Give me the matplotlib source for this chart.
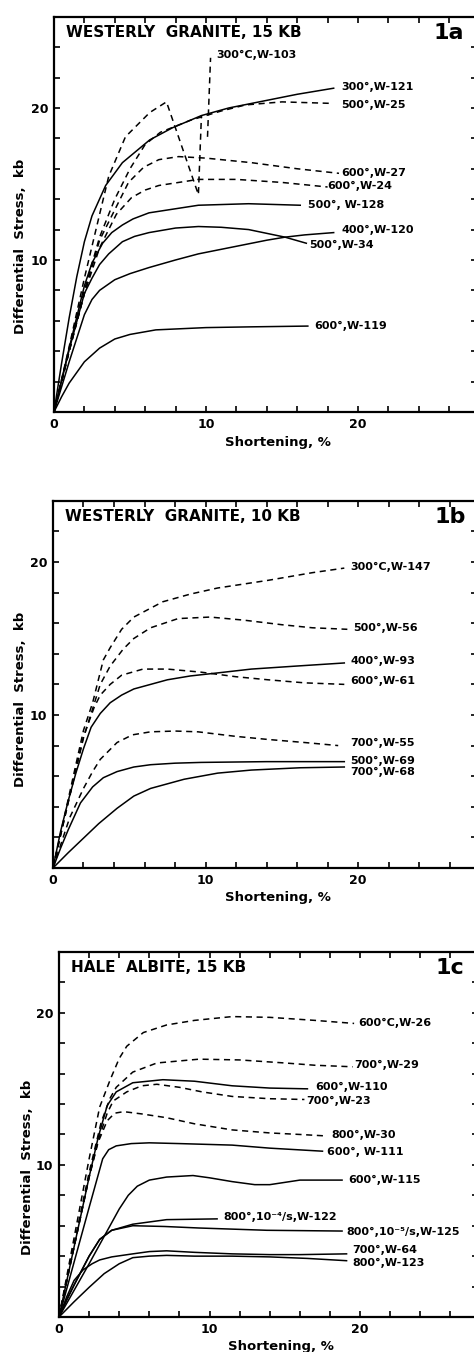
# coding: UTF-8
import matplotlib
matplotlib.use("Agg")
import matplotlib.pyplot as plt

# ---------- panel 1a : Westerly granite, 15 kb ----------
W121_X = [0, 0.5, 1.0, 1.5, 2.0, 2.5, 3.4, 4.5, 6.3, 7.8, 9.7, 11.5, 14, 16, 18.4]
W121_Y = [0, 3.2, 6.2, 8.9, 11.2, 12.9, 14.9, 16.4, 17.9, 18.7, 19.5, 20.0, 20.5, 20.9, 21.3]
W25_X = [0, 1, 2, 3, 4, 5, 6, 7, 9, 11, 12.6, 15, 18.3]
W25_Y = [0, 4, 8, 11.5, 14, 16, 17.6, 18.4, 19.2, 19.8, 20.2, 20.4, 20.3]
W103_X = [0, 1, 2, 3, 3.6, 4.7, 6.3, 7.4, 9.5, 9.7]
W103_Y = [0, 4.3, 8.8, 13, 15.5, 18.1, 19.7, 20.4, 14.3, 19.5]
W103_LEADER_X = [10.1, 10.3]
W103_LEADER_Y = [18.1, 23.3]
W27_X = [0, 1, 2, 3, 3.9, 4.9, 5.9, 6.9, 8.2, 10, 13, 16, 18.75]
W27_Y = [0, 4, 7.8, 11.3, 13.1, 15.1, 16.1, 16.6, 16.8, 16.7, 16.4, 16.0, 15.7]
W24_X = [0, 1, 2, 3, 4.1, 5.1, 6.0, 6.9, 9.5, 12, 15, 18.0]
W24_Y = [0, 4, 7.8, 10.8, 13.0, 14.1, 14.6, 14.9, 15.3, 15.3, 15.1, 14.8]
W128_X = [0, 1, 2, 2.5, 3.2, 3.8, 4.5, 5.2, 6.25, 9.5, 12.8, 16.2]
W128_Y = [0, 4.2, 8.3, 9.8, 11.1, 11.8, 12.3, 12.7, 13.1, 13.6, 13.7, 13.6]
W34_X = [0, 1, 2, 2.5, 3.0, 3.6, 4.5, 5.3, 6.25, 8, 9.5, 11, 12.8, 14, 15.2, 16.6]
W34_Y = [0, 4.1, 7.8, 8.8, 9.7, 10.4, 11.2, 11.55, 11.8, 12.1, 12.2, 12.15, 12.0, 11.75, 11.5, 11.1]
W120_X = [0, 1, 2, 2.5, 3.0, 4.0, 5, 6.25, 8, 9.5, 12, 14, 15.2, 16.5, 18.4]
W120_Y = [0, 3.3, 6.4, 7.4, 8.0, 8.7, 9.1, 9.5, 10.0, 10.4, 10.9, 11.3, 11.5, 11.65, 11.8]
W119_X = [0, 0.5, 1, 2, 3, 4, 5, 6.7, 10, 13, 16.7]
W119_Y = [0, 1.0, 1.9, 3.3, 4.2, 4.8, 5.1, 5.4, 5.55, 5.6, 5.65]

# ---------- panel 1b : Westerly granite, 10 kb ----------
W147_X = [0, 1, 2, 2.6, 3.3, 3.75, 4.5, 5.3, 7.2, 9, 10.8, 14.1, 17, 19.1]
W147_Y = [0, 4.5, 9, 10.8, 13.6, 14.4, 15.6, 16.4, 17.4, 17.9, 18.3, 18.8, 19.3, 19.6]
W56_X = [0, 1, 2, 3.1, 3.75, 4.6, 5.3, 6.4, 8.2, 10.3, 12.5, 15, 17, 19.3]
W56_Y = [0, 4.3, 8.5, 12, 13.2, 14.3, 15.0, 15.7, 16.3, 16.4, 16.2, 15.9, 15.7, 15.6]
W93_X = [0, 0.5, 1.0, 1.5, 2.0, 2.5, 3.1, 3.75, 4.5, 5.3, 6.4, 7.5, 9, 10.8, 13, 16, 19.1]
W93_Y = [0, 2.4, 4.4, 6.2, 7.8, 9.2, 10.1, 10.8, 11.3, 11.7, 12.0, 12.3, 12.55, 12.75, 13.0, 13.2, 13.4]
W61_X = [0, 1, 2, 2.7, 3.1, 3.75, 4.5, 5.9, 7.5, 9.7, 12, 14.1, 16.5, 19.1]
W61_Y = [0, 4.3, 8.6, 10.5, 11.3, 12.0, 12.6, 13.0, 13.0, 12.8, 12.5, 12.3, 12.1, 12.0]
W55_X = [0, 0.5, 1.1, 2.0, 2.6, 3.1, 4.2, 5.2, 6.4, 8, 9.5, 12, 14.1, 16.5, 18.7]
W55_Y = [0, 1.5, 3.3, 5.2, 6.3, 7.1, 8.2, 8.7, 8.9, 8.95, 8.9, 8.6, 8.4, 8.2, 8.0]
W69_X = [0, 0.5, 1.0, 1.8, 2.6, 3.3, 4.2, 5.3, 6.4, 8, 9.7, 14, 19.1]
W69_Y = [0, 1.3, 2.5, 4.25, 5.3, 5.9, 6.3, 6.6, 6.75, 6.85, 6.9, 6.95, 6.95]
W68_X = [0, 1, 2, 3, 4.2, 5.3, 6.4, 8.6, 10.8, 13, 16.2, 19.1]
W68_Y = [0, 1.0, 1.95, 2.9, 3.9, 4.7, 5.2, 5.8, 6.2, 6.4, 6.55, 6.6]

# ---------- panel 1c : Hale albite, 15 kb ----------
W26_X = [0, 0.5, 1, 1.5, 2, 2.7, 3.4, 4.0, 4.5, 5.6, 7.15, 9, 11.5, 14, 17, 19.6]
W26_Y = [0, 2.6, 5.2, 7.8, 10.4, 13.8, 15.6, 17.0, 17.8, 18.7, 19.2, 19.5, 19.75, 19.7, 19.5, 19.3]
W29_X = [0, 1, 2, 2.8, 3.4, 3.8, 4.9, 6.5, 9.3, 12, 15, 17, 19.5]
W29_Y = [0, 4.8, 9.5, 12.8, 14.4, 15.1, 16.1, 16.7, 16.95, 16.9, 16.7, 16.55, 16.45]
W110_X = [0, 1, 2, 2.6, 3.2, 3.8, 4.9, 6.9, 9, 11.5, 14, 16.5]
W110_Y = [0, 4.6, 9.2, 11.8, 13.9, 14.8, 15.4, 15.6, 15.5, 15.2, 15.05, 15.0]
W23_X = [0, 1, 2, 2.6, 3.2, 3.6, 4.5, 5.5, 6.5, 8, 9.5, 11.5, 14, 16.3]
W23_Y = [0, 4.6, 9.2, 11.6, 13.4, 14.2, 14.8, 15.2, 15.3, 15.1, 14.8, 14.5, 14.35, 14.3]
W30_X = [0, 1, 2, 2.6, 3.2, 3.7, 4.3, 5.5, 7.15, 9, 11.5, 14, 16, 17.8]
W30_Y = [0, 4.6, 9.2, 11.5, 12.9, 13.4, 13.5, 13.35, 13.1, 12.7, 12.3, 12.1, 12.0, 11.9]
W111_X = [0, 1, 2, 2.9, 3.3, 3.8, 4.8, 6, 8, 11.5, 14, 17.5]
W111_Y = [0, 3.6, 7.2, 10.4, 11.0, 11.25, 11.4, 11.45, 11.4, 11.3, 11.1, 10.9]
W115_X = [0, 1, 2, 3, 4, 4.6, 5.2, 6, 7.15, 8.9, 10, 11.5, 13, 14, 15, 16, 18.8]
W115_Y = [0, 1.75, 3.5, 5.3, 7.1, 8.0, 8.6, 9.0, 9.2, 9.3, 9.15, 8.9, 8.7, 8.7, 8.85, 9.0, 9.0]
W122_X = [0, 0.5, 1, 2, 2.7, 3.5, 4.9, 7.15, 10.5]
W122_Y = [0, 1.1, 2.1, 4.0, 5.1, 5.7, 6.1, 6.4, 6.45]
W125_X = [0, 0.5, 1, 2, 2.7, 3.5, 4.9, 7, 9.3, 13.8, 18.8]
W125_Y = [0, 1.1, 2.1, 4.0, 5.1, 5.7, 6.0, 5.95, 5.85, 5.7, 5.65]
W64_X = [0, 0.5, 1, 1.6, 2.2, 2.7, 3.5, 4.9, 6, 7.15, 9, 11.5, 14, 16, 19.1]
W64_Y = [0, 1.3, 2.4, 3.1, 3.5, 3.75, 3.95, 4.15, 4.3, 4.35, 4.25, 4.15, 4.1, 4.1, 4.15]
W123_X = [0, 1, 2, 3, 4, 4.9, 6, 7.15, 9, 11.5, 14, 16.5, 19.1]
W123_Y = [0, 1.0, 1.95, 2.85, 3.5, 3.9, 4.0, 4.05, 4.0, 4.0, 3.95, 3.85, 3.7]

# label text and where it sits (data coords)
LABELS_A = [("300°C,W-103", 10.65, 23.5), ("300°,W-121", 18.9, 21.4), ("500°,W-25", 18.9, 20.2),
            ("600°,W-27", 18.9, 15.7), ("600°,W-24", 18.0, 14.9), ("500°, W-128", 16.7, 13.6),
            ("400°,W-120", 18.9, 12.0), ("500°,W-34", 16.8, 11.0), ("600°,W-119", 17.1, 5.65)]
LABELS_B = [("300°C,W-147", 19.5, 19.7), ("500°,W-56", 19.7, 15.7), ("400°,W-93", 19.5, 13.5),
            ("600°,W-61", 19.5, 12.2), ("700°,W-55", 19.5, 8.2), ("500°,W-69", 19.5, 7.0),
            ("700°,W-68", 19.5, 6.3)]
LABELS_C = [("600°C,W-26", 19.9, 19.35), ("700°,W-29", 19.6, 16.6), ("600°,W-110", 17.0, 15.1),
            ("700°,W-23", 16.4, 14.2), ("800°,W-30", 18.1, 12.0), ("600°, W-111", 17.8, 10.85),
            ("600°,W-115", 19.2, 9.0), ("800°,10⁻⁴/s,W-122", 10.9, 6.6),
            ("800°,10⁻⁵/s,W-125", 19.1, 5.6), ("700°,W-64", 19.5, 4.4), ("800°,W-123", 19.5, 3.55)]

FONT = "DejaVu Sans"


def setup(ax, ytop, title, tag, lab_x, lab_y):
    ax.set_xlim(0, 27.8)
    ax.set_ylim(0, ytop)
    ax.set_xticks(range(0, 28, 2))
    ax.set_xticklabels([str(v) if v % 10 == 0 else "" for v in range(0, 28, 2)])
    ax.set_yticks(range(0, ytop + 1, 2))
    ax.set_yticklabels([str(v) if v in (10, 20) else "" for v in range(0, ytop + 1, 2)])
    ax.tick_params(direction="in", top=True, right=True, length=4, width=1.2,
                   labelsize=9, pad=4)
    for lab in ax.get_xticklabels() + ax.get_yticklabels():
        lab.set_fontweight("bold")
    for sp in ax.spines.values():
        sp.set_linewidth(1.6)
    ax.text(0.8, ytop - 1.05, title, fontsize=11, fontweight="bold", va="center", ha="left")
    ax.text(25.0, ytop - 1.05, tag, fontsize=16, fontweight="bold", va="center", ha="left")
    ax.text(lab_x, lab_y, "Differential  Stress,  kb", transform=ax.transAxes, rotation=90,
            ha="center", va="center", fontsize=9.5, fontweight="bold")
    ax.set_xlabel("Shortening, %", fontsize=9.5, fontweight="bold")
    ax.xaxis.set_label_coords(0.53, -0.062)


def curve(ax, x, y, dashed=False):
    if dashed:
        ax.plot(x, y, color="black", lw=1.1, dashes=(4, 3))
    else:
        ax.plot(x, y, color="black", lw=1.1)


def labels(ax, items):
    for txt, x, y in items:
        ax.text(x, y, txt, fontsize=8, fontweight="bold", ha="left", va="center")


plt.rcParams["font.family"] = FONT
fig = plt.figure(figsize=(4.74, 13.52), dpi=100)

ax1 = fig.add_axes([0.1139, 0.6953, 0.8915, 0.2923])
ax2 = fig.add_axes([0.1118, 0.3580, 0.8945, 0.2716])
ax3 = fig.add_axes([0.1245, 0.0259, 0.8830, 0.2700])

setup(ax1, 26, "WESTERLY  GRANITE, 15 KB", "1a", -0.08, 0.42)
setup(ax2, 24, "WESTERLY  GRANITE, 10 KB", "1b", -0.077, 0.46)
setup(ax3, 24, "HALE  ALBITE, 15 KB", "1c", -0.075, 0.41)

for x, y in [(W121_X, W121_Y), (W128_X, W128_Y), (W34_X, W34_Y), (W120_X, W120_Y), (W119_X, W119_Y)]:
    curve(ax1, x, y)
for x, y in [(W25_X, W25_Y), (W103_X, W103_Y), (W103_LEADER_X, W103_LEADER_Y), (W27_X, W27_Y), (W24_X, W24_Y)]:
    curve(ax1, x, y, dashed=True)
labels(ax1, LABELS_A)

for x, y in [(W93_X, W93_Y), (W69_X, W69_Y), (W68_X, W68_Y)]:
    curve(ax2, x, y)
for x, y in [(W147_X, W147_Y), (W56_X, W56_Y), (W61_X, W61_Y), (W55_X, W55_Y)]:
    curve(ax2, x, y, dashed=True)
labels(ax2, LABELS_B)

for x, y in [(W110_X, W110_Y), (W111_X, W111_Y), (W115_X, W115_Y), (W122_X, W122_Y),
             (W125_X, W125_Y), (W64_X, W64_Y), (W123_X, W123_Y)]:
    curve(ax3, x, y)
for x, y in [(W26_X, W26_Y), (W29_X, W29_Y), (W23_X, W23_Y), (W30_X, W30_Y)]:
    curve(ax3, x, y, dashed=True)
labels(ax3, LABELS_C)

fig.savefig("out.png", dpi=100)
